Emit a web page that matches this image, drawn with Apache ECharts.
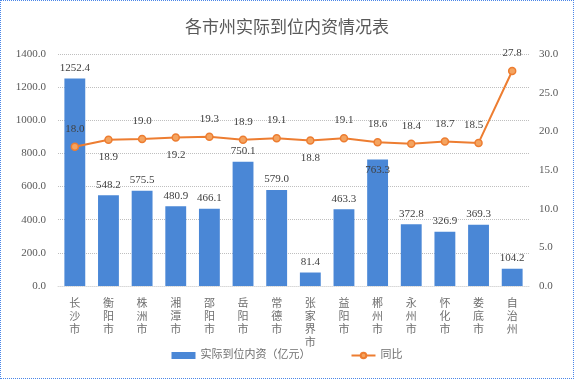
<!DOCTYPE html>
<html><head><meta charset="utf-8">
<script src="https://cdn.jsdelivr.net/npm/echarts@6/dist/echarts.min.js"></script>
<style>
html,body{margin:0;padding:0;background:#fff;}
#c{position:absolute;left:0;top:0;width:572px;height:377px;border:1px dotted #4a86e8;}
</style></head>
<body><div id="c"></div>
<script>
const categories = ['长沙市','衡阳市','株洲市','湘潭市','邵阳市','岳阳市','常德市','张家界市','益阳市','郴州市','永州市','怀化市','娄底市','自治州'];
const investment = [1252.4,548.2,575.5,480.9,466.1,750.1,579.0,81.4,463.3,763.3,372.8,326.9,369.3,104.2];
const growth = [18.0,18.9,19.0,19.2,19.3,18.9,19.1,18.8,19.1,18.6,18.4,18.7,18.5,27.8];
const growthLabelPos = ['top','bottom','top','bottom','top','top','top','bottom','top','top','top','top','top','top'];
const barLabelPos = ['top','top','top','top','top','top','top','top','top','insideTop','top','top','top','top'];

const font = '"Liberation Serif","Noto Sans CJK SC",serif';
const chart = echarts.init(document.getElementById('c'));
chart.setOption({
  animation:false,
  title:{text:'各市州实际到位内资情况表',left:'center',top:12,
    textStyle:{fontSize:17,fontWeight:'normal',color:'#595959',fontFamily:'"Noto Sans CJK SC",sans-serif'}},
  grid:{left:57,right:44,top:53,bottom:92},
  legend:{bottom:12,left:'center',itemGap:40,itemWidth:24,itemHeight:7,
    textStyle:{fontSize:11,color:'#6f6f6f',fontFamily:font},
    data:[{name:'实际到位内资（亿元）',icon:'rect'},{name:'同比'}]},
  xAxis:{type:'category',data:categories,
    axisLine:{show:true,lineStyle:{color:'#d9d9d9',type:'dotted'}},axisTick:{show:false},
    axisLabel:{interval:0,color:'#6f6f6f',fontSize:11,fontFamily:'"Noto Sans CJK SC",sans-serif',lineHeight:13,margin:10,
      formatter:v=>v.split('').join('\n')}},
  yAxis:[
    {type:'value',min:0,max:1400,interval:200,
      axisLabel:{formatter:v=>v.toFixed(1),color:'#595959',fontSize:11,fontFamily:font,margin:12},
      splitLine:{lineStyle:{color:'#bfbfbf',type:'dotted'}},axisLine:{show:false},axisTick:{show:false}},
    {type:'value',min:0,max:30,interval:5,
      axisLabel:{formatter:v=>v.toFixed(1),color:'#595959',fontSize:11,fontFamily:font,margin:10},
      splitLine:{show:false},axisLine:{show:false},axisTick:{show:false}}
  ],
  series:[
    {name:'实际到位内资（亿元）',type:'bar',barWidth:'62%',
      data:investment.map((v,i)=>({value:v,label:{position:barLabelPos[i]}})),
      itemStyle:{color:'#4a87d6'},
      label:{show:true,distance:5,color:'#404040',fontSize:11,fontFamily:font,formatter:p=>p.value.toFixed(1)}},
    {name:'同比',type:'line',yAxisIndex:1,
      data:growth.map((v,i)=>({value:v,label:{position:growthLabelPos[i],offset:i===12?[-5,0]:[0,0]}})),
      symbol:'circle',symbolSize:7,
      lineStyle:{color:'#ed7d31',width:2},
      itemStyle:{color:'#f4a460',borderColor:'#ed7d31',borderWidth:1.5},
      label:{show:true,distance:8,color:'#404040',fontSize:11,fontFamily:font,formatter:p=>p.value.toFixed(1)}}
  ]
});
</script></body></html>
